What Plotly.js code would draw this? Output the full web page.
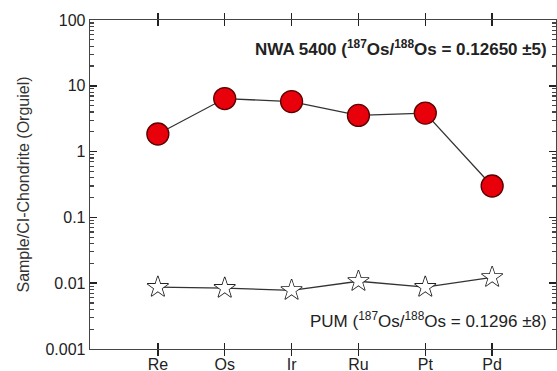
<!DOCTYPE html>
<html>
<head>
<meta charset="utf-8">
<script src="https://cdn.plot.ly/plotly-3.0.1.min.js"></script>
<style>html,body{margin:0;padding:0;background:#fff;}#chart{width:557px;height:371px;}</style>
</head>
<body>
<div id="chart"></div>
<script>
var elements = ["Re", "Os", "Ir", "Ru", "Pt", "Pd"];
var nwa5400 = [1.85, 6.4, 5.75, 3.55, 3.85, 0.30];
var pum = [0.0087, 0.0084, 0.0078, 0.0107, 0.0087, 0.0123];
var yTickVals = [0.001, 0.01, 0.1, 1, 10, 100];
var yTickText = ["0.001", "0.01", "0.1", "1", "10", "100"];

var idx = elements.map(function(_, i){ return i; });

var minorVals = [];
for (var d = 0; d < yTickVals.length - 1; d++) {
  for (var m = 2; m <= 9; m++) minorVals.push(m * yTickVals[d]);
}

var traces = [
  {
    x: idx, y: pum, type: "scatter", mode: "lines",
    line: {color: "#333", width: 1.3},
    showlegend: false, hoverinfo: "skip"
  },
  {
    x: idx, y: pum, type: "scatter", mode: "markers", yaxis: "y2",
    marker: {symbol: "star", size: 15, color: "#fff", line: {width: 0}},
    showlegend: false, hoverinfo: "skip"
  },
  {
    x: idx, y: pum, type: "scatter", mode: "markers",
    marker: {symbol: "star-open", size: 16, color: "#222", line: {width: 1.2, color: "#222"}},
    showlegend: false, hoverinfo: "skip"
  },
  {
    x: idx, y: nwa5400, type: "scatter", mode: "lines+markers",
    line: {color: "#333", width: 1.3},
    marker: {symbol: "circle", size: 22, color: "#e8000b", line: {width: 1.3, color: "#5a0000"}},
    showlegend: false, hoverinfo: "skip"
  }
];

var layout = {
  width: 557, height: 371,
  margin: {l: 90, r: 1, t: 20, b: 22},
  paper_bgcolor: "#fff", plot_bgcolor: "#fff",
  font: {family: "Liberation Sans, Arial, sans-serif", color: "#222"},
  xaxis: {
    range: [-1.015, 5.955],
    tickmode: "array", tickvals: idx, ticktext: elements,
    ticks: "inside", ticklen: 6, tickcolor: "#222", tickwidth: 1.5,
    showline: true, linecolor: "#444", linewidth: 1.3, mirror: "allticks",
    showgrid: false, zeroline: false,
    tickfont: {size: 16, color: "#222"}
  },
  yaxis: {
    type: "log", range: [-3, 2],
    tickmode: "array", tickvals: yTickVals, ticktext: yTickText,
    ticks: "inside", ticklen: 7, tickcolor: "#222", tickwidth: 1.5,
    showline: true, linecolor: "#444", linewidth: 1.3, mirror: "allticks",
    showgrid: false, zeroline: false,
    tickfont: {size: 16, color: "#222"},
    title: {text: "Sample/CI-Chondrite (Orguiel)", font: {size: 16, color: "#333"}, standoff: 12}
  },
  yaxis2: {
    type: "log", range: [-3, 2], overlaying: "y", side: "left", anchor: "x",
    tickmode: "array", tickvals: minorVals,
    ticks: "inside", ticklen: 4, tickcolor: "#444", tickwidth: 1.2,
    showticklabels: false, showline: true, linecolor: "#444", linewidth: 1.3, mirror: "allticks",
    showgrid: false, zeroline: false
  },
  annotations: [
    {
      xref: "paper", yref: "paper", x: 0.985, y: 0.915, xanchor: "right", yanchor: "middle",
      text: "<b>NWA 5400 (<sup>187</sup>Os/<sup>188</sup>Os = 0.12650 ±5)</b>",
      showarrow: false, font: {size: 17, color: "#222"}
    },
    {
      xref: "paper", yref: "paper", x: 0.985, y: 0.088, xanchor: "right", yanchor: "middle",
      text: "PUM (<sup>187</sup>Os/<sup>188</sup>Os = 0.1296 ±8)",
      showarrow: false, font: {size: 17, color: "#222"}
    }
  ]
};

Plotly.newPlot("chart", traces, layout, {staticPlot: true, displayModeBar: false});
</script>
</body>
</html>
